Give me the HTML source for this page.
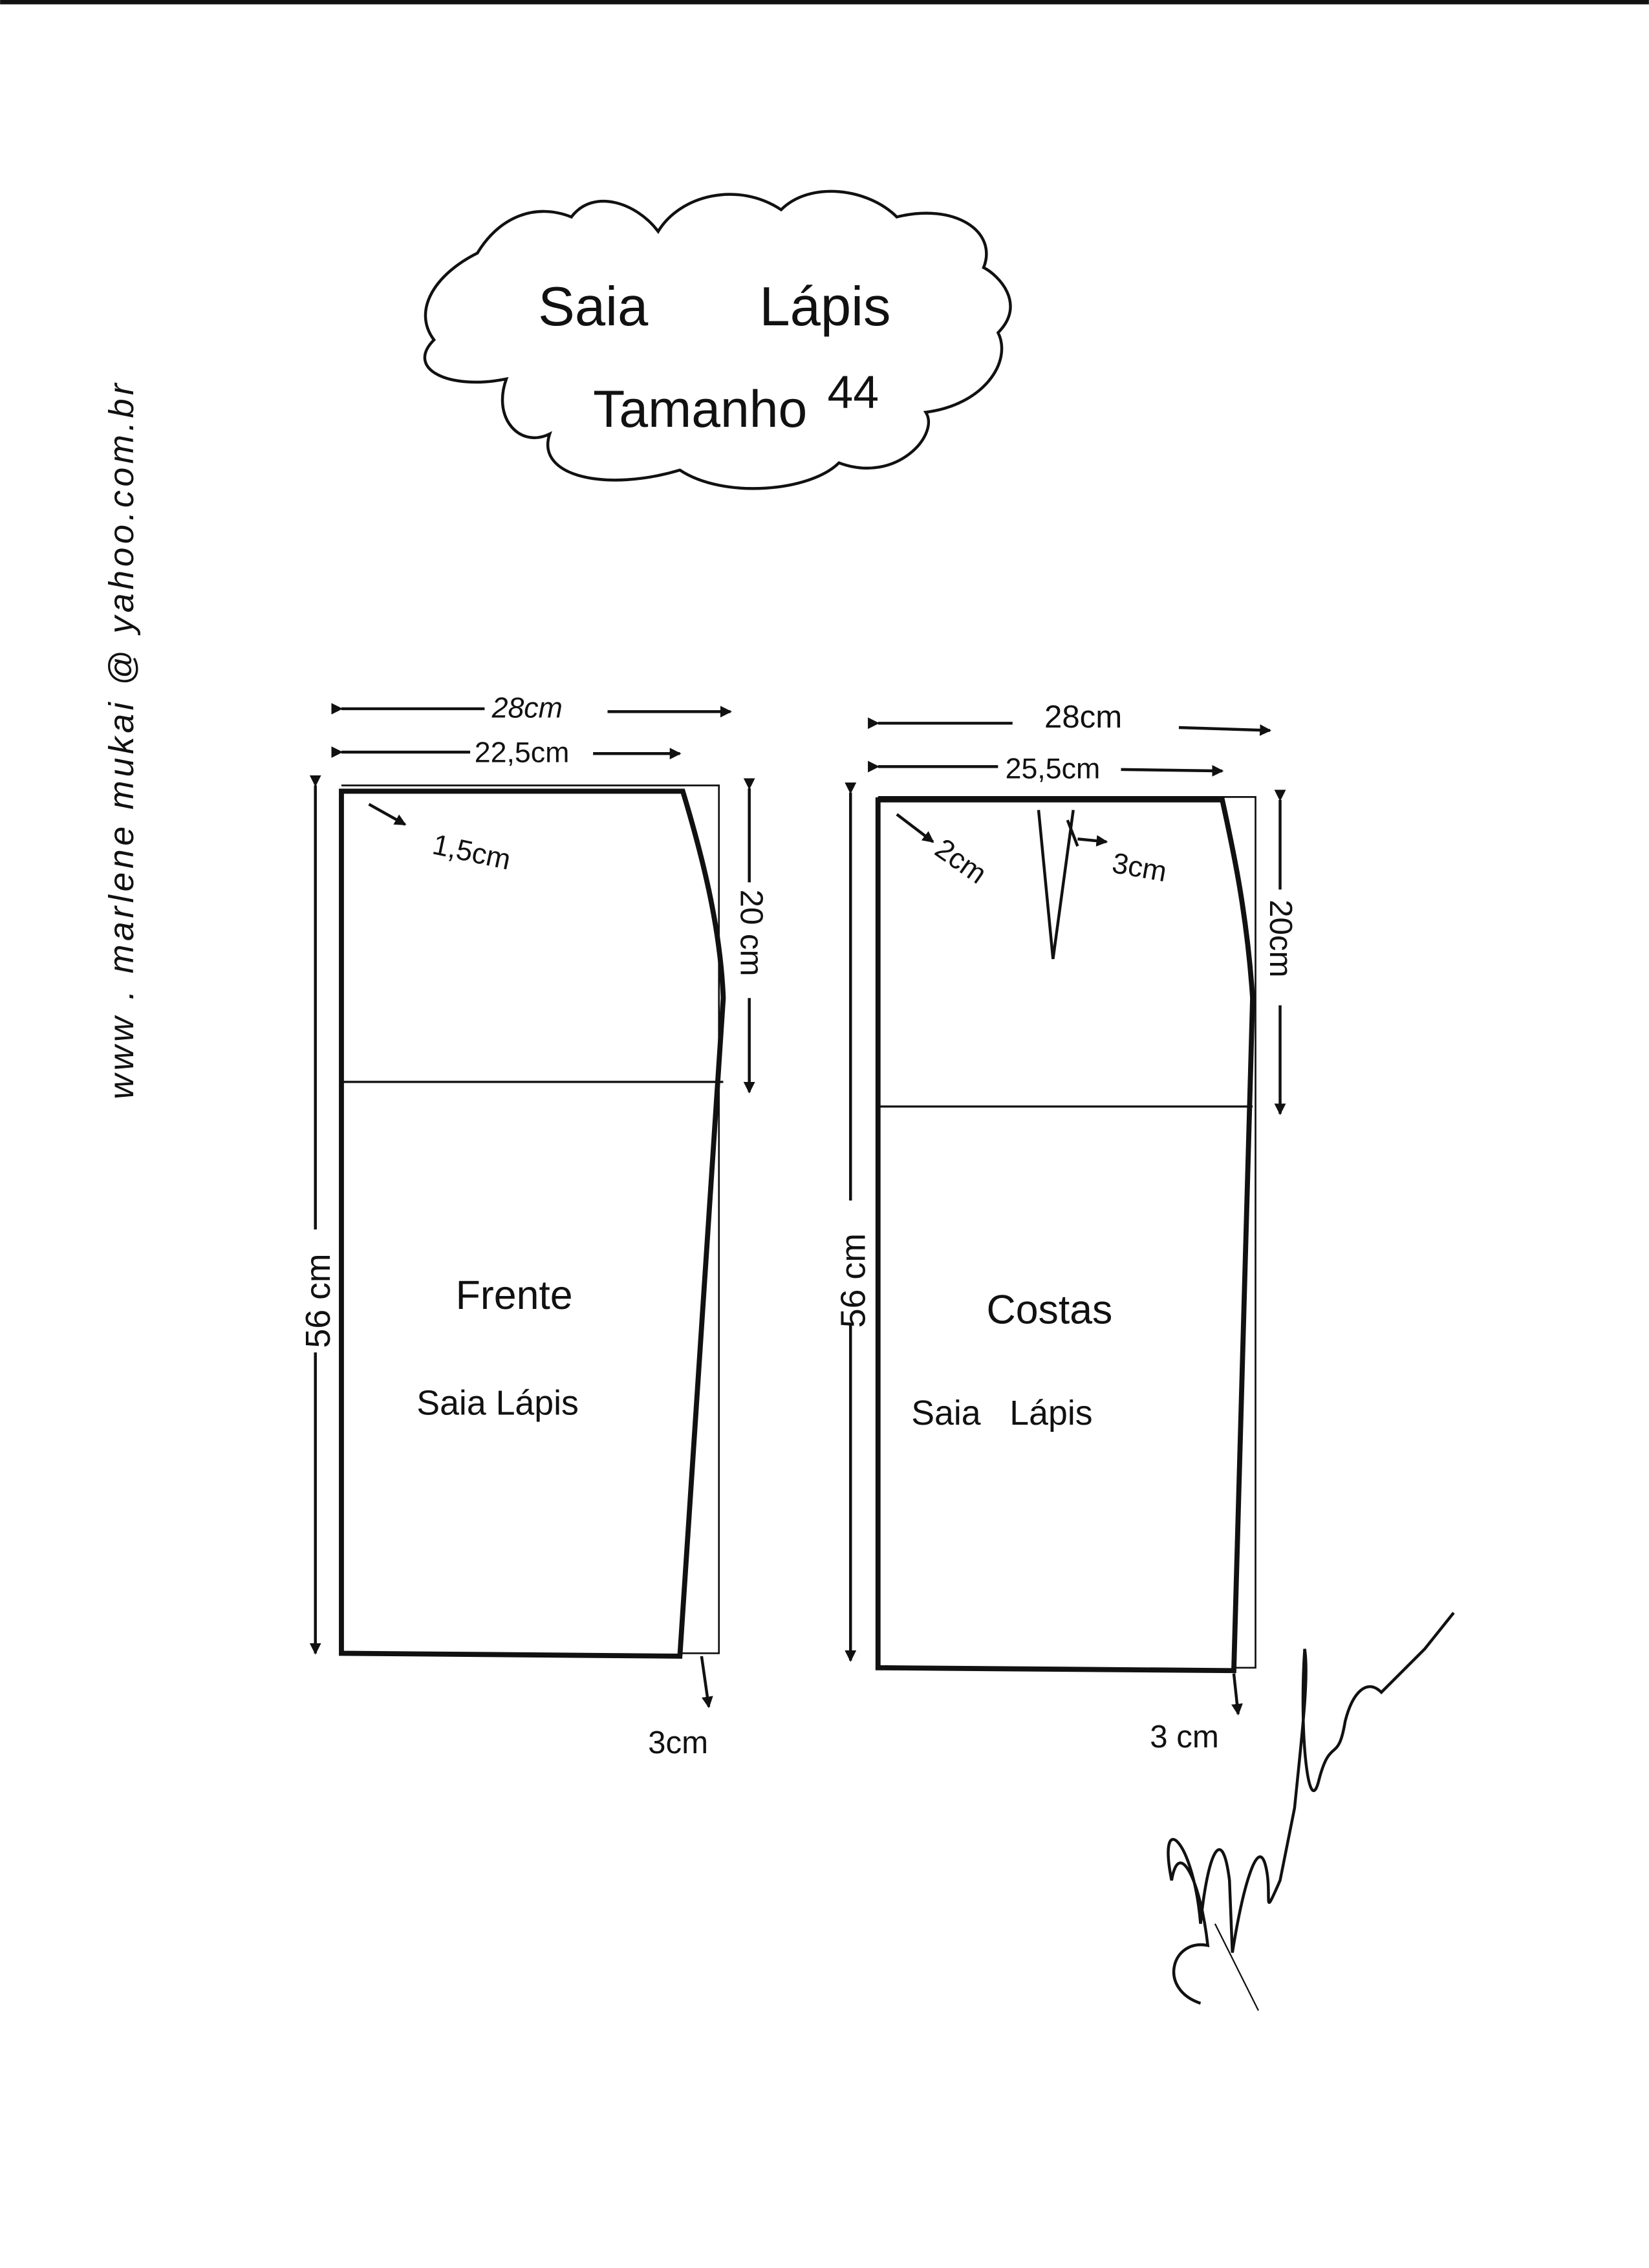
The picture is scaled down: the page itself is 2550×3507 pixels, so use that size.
<!DOCTYPE html>
<html><head><meta charset="utf-8"><style>
html,body{margin:0;padding:0;background:#fff;}
svg{display:block;}
text{font-family:"Liberation Sans",sans-serif;fill:#111;}
</style></head><body>
<svg width="2550" height="3507" viewBox="0 0 1140 1568" xmlns="http://www.w3.org/2000/svg">
<defs>
<marker id="a" markerWidth="8" markerHeight="8" refX="7" refY="4" orient="auto" markerUnits="userSpaceOnUse"><path d="M0,0 L8,4 L0,8 z" fill="#111"/></marker>
</defs>
<rect x="0" y="0" width="1140" height="3" fill="#111"/>
<path d="M330,175 C300,190 285,215 300,235 C280,255 310,270 350,262 C340,290 360,310 380,300 C370,330 420,340 470,325 C500,345 560,340 580,320 C620,335 650,300 640,285 C680,280 700,250 690,230 C710,210 690,190 680,185 C690,160 660,140 620,150 C600,130 560,125 540,145 C510,125 470,135 455,160 C440,140 410,130 395,150 C370,140 345,150 330,175 Z" fill="none" stroke="#111" stroke-width="2"/>
<text x="372" y="225" font-size="38">Saia</text>
<text x="525" y="225" font-size="38">Lápis</text>
<text x="410" y="295" font-size="36">Tamanho</text>
<text x="572" y="282" font-size="32">44</text>
<text transform="translate(92,760) rotate(-90)" font-size="24" letter-spacing="2.5" font-style="italic">www . marlene mukai @ yahoo.com.br</text>
<g stroke="#111" fill="none">
<path d="M236,543 L497,543 L497,1143 L470,1143" stroke-width="1.2"/>
<path d="M236,547 L236,1143 L470,1145 L500,690 C498,640 485,590 472,547 Z" stroke-width="3.5"/>
<line x1="236" y1="748" x2="500" y2="748" stroke-width="1.5"/>
<line x1="236" y1="490" x2="335" y2="490" stroke-width="2" marker-start="url(#a)"/>
<line x1="420" y1="492" x2="505" y2="492" stroke-width="2" marker-end="url(#a)"/>
<line x1="236" y1="520" x2="325" y2="520" stroke-width="2" marker-start="url(#a)"/>
<line x1="410" y1="521" x2="470" y2="521" stroke-width="2" marker-end="url(#a)"/>
<line x1="218" y1="543" x2="218" y2="850" stroke-width="2" marker-start="url(#a)"/>
<line x1="218" y1="935" x2="218" y2="1143" stroke-width="2" marker-end="url(#a)"/>
<line x1="518" y1="545" x2="518" y2="610" stroke-width="2" marker-start="url(#a)"/>
<line x1="518" y1="690" x2="518" y2="755" stroke-width="2" marker-end="url(#a)"/>
<line x1="255" y1="556" x2="280" y2="570" stroke-width="2" marker-end="url(#a)"/>
<line x1="485" y1="1145" x2="490" y2="1180" stroke-width="2" marker-end="url(#a)"/>
<path d="M607,551 L868,551 L868,1153 L853,1153" stroke-width="1.2"/>
<path d="M607,553 L607,1153 L853,1155 L866,690 C862,630 852,585 845,553 Z" stroke-width="3.5"/>
<path d="M718,560 L728,663 L742,560" stroke-width="2"/>
<line x1="607" y1="765" x2="866" y2="765" stroke-width="1.5"/>
<line x1="607" y1="500" x2="700" y2="500" stroke-width="2" marker-start="url(#a)"/>
<line x1="815" y1="503" x2="878" y2="505" stroke-width="2" marker-end="url(#a)"/>
<line x1="607" y1="530" x2="690" y2="530" stroke-width="2" marker-start="url(#a)"/>
<line x1="775" y1="532" x2="845" y2="533" stroke-width="2" marker-end="url(#a)"/>
<line x1="588" y1="548" x2="588" y2="830" stroke-width="2" marker-start="url(#a)"/>
<line x1="588" y1="915" x2="588" y2="1148" stroke-width="2" marker-end="url(#a)"/>
<line x1="885" y1="553" x2="885" y2="615" stroke-width="2" marker-start="url(#a)"/>
<line x1="885" y1="695" x2="885" y2="770" stroke-width="2" marker-end="url(#a)"/>
<line x1="620" y1="563" x2="645" y2="582" stroke-width="2" marker-end="url(#a)"/>
<line x1="738" y1="567" x2="745" y2="585" stroke-width="2"/>
<line x1="745" y1="580" x2="765" y2="582" stroke-width="2" marker-end="url(#a)"/>
<line x1="853" y1="1157" x2="856" y2="1185" stroke-width="2" marker-end="url(#a)"/>
<path d="M830,1385 C800,1375 810,1340 835,1345 C830,1300 815,1270 810,1300 C800,1250 825,1270 830,1330 C835,1280 845,1260 850,1300 L852,1350 C860,1300 870,1270 875,1290 C880,1310 872,1330 885,1300 L895,1250 C900,1200 905,1160 902,1140 C898,1200 905,1260 912,1230 C920,1200 925,1220 930,1190 C935,1170 945,1160 955,1170 C965,1160 975,1150 985,1140 L1005,1115" stroke-width="2"/>
<path d="M840,1330 L870,1390" stroke-width="1"/>
</g>
<text x="298" y="590" font-size="20" transform="rotate(12 298 590)">1,5cm</text>
<text x="340" y="496" font-size="20" font-style="italic">28cm</text>
<text x="328" y="527" font-size="20">22,5cm</text>
<text transform="translate(228,932) rotate(-90)" font-size="24">56 cm</text>
<text transform="translate(512,615) rotate(90)" font-size="22">20 cm</text>
<text x="448" y="1212" font-size="22">3cm</text>
<text x="315" y="905" font-size="28">Frente</text>
<text x="288" y="978" font-size="24">Saia Lápis</text>
<text x="722" y="503" font-size="22">28cm</text>
<text x="695" y="538" font-size="20">25,5cm</text>
<text transform="translate(645,590) rotate(35)" font-size="20">2cm</text>
<text x="768" y="603" font-size="20" transform="rotate(10 768 603)">3cm</text>
<text transform="translate(598,918) rotate(-90)" font-size="24">56 cm</text>
<text transform="translate(878,622) rotate(90)" font-size="22">20cm</text>
<text x="795" y="1208" font-size="22">3 cm</text>
<text x="682" y="915" font-size="28">Costas</text>
<text x="630" y="985" font-size="24">Saia&#160;&#160;&#160;Lápis</text>
</svg>
</body></html>
